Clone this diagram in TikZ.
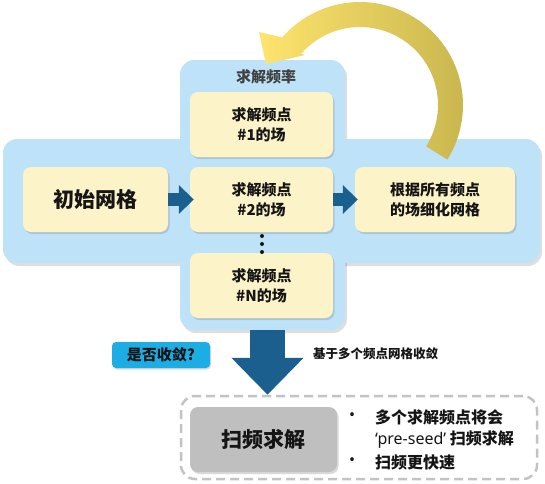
\documentclass[tikz,border=0pt]{standalone}
\usepackage{fontspec}
\setmainfont{Noto Sans CJK SC}
\newfontfamily\latin{Noto Sans}
\usetikzlibrary{positioning,arrows.meta,shadows}

\definecolor{bandblue}{HTML}{BEE3F8}
\definecolor{boxyellow}{HTML}{FDF3C9}
\definecolor{arrowblue}{HTML}{1A5F8E}
\definecolor{askcyan}{HTML}{1BADE4}
\definecolor{sweepgray}{HTML}{BFBFBF}
\definecolor{dashgray}{HTML}{C3C3C3}
\definecolor{loopyellow}{HTML}{FFE46E}
\definecolor{loopolive}{HTML}{C9B74F}
\definecolor{titlegray}{HTML}{404040}
\definecolor{inkblack}{HTML}{151515}

\tikzset{
  panel/.style={fill=bandblue, rounded corners=14pt, inner sep=0pt},
  fieldbox/.style={fill=boxyellow, rounded corners=8pt, minimum width=143pt, minimum height=65pt,
    align=center, text=inkblack, font=\bfseries\fontsize{15}{20}\selectfont,
    drop shadow={opacity=0.3, shadow xshift=1.5pt, shadow yshift=-2pt}},
  flow/.style={arrowblue, line width=13pt, -{Triangle[width=28pt,length=15pt]}},
  note/.style={anchor=west, inner sep=0pt, text=inkblack, font=\bfseries\fontsize{16}{20}\selectfont},
}

\begin{document}
\begin{tikzpicture}[x=1pt,y=-1pt]
        \useasboundingbox (0,0) rectangle (545,483);

        % blue panels
        \fill[black, opacity=0.13, rounded corners=14pt] (5,142) rectangle (542,266);
        \fill[black, opacity=0.13, rounded corners=14pt] (182,63) rectangle (347,333);
        \node[panel, minimum width=537pt, minimum height=124pt] (band) at (271.5,201) {};
        \node[panel, minimum width=165pt, minimum height=270pt] (freqcol) at (262.5,195) {};

        \node[text=titlegray, font=\bfseries\fontsize{15}{18}\selectfont] (freqtitle) at (266,77) {求解频率};

        \node[fieldbox] (f1) at (261.5,124.5) {求解频点\\\#1的场};
        \node[fieldbox] (f2) at (261.5,199.5) {求解频点\\\#2的场};
        \node[fieldbox] (fN) at (261.5,285.5) {求解频点\\\#N的场};
        \node[fieldbox, minimum width=145pt, font=\bfseries\fontsize{21}{24}\selectfont] (initmesh) at (95.5,199.5) {初始网格};
        \node[fieldbox, minimum width=160pt] (refine) at (435,199.5) {根据所有频点\\的场细化网格};

        \foreach \y in {236,244,252}
          \fill[inkblack] (262,\y) circle (2pt);

        \draw[flow] (initmesh.east) -- ([xshift=4pt]f2.west);
        \draw[flow] (f2.east) -- ([xshift=3pt]refine.west);

        % loop arrow
        \shade[left color=loopyellow, middle color=loopyellow, right color=loopolive]
          plot[domain=32:-139, samples=60] ({360+103*cos(\x)},{105+103*sin(\x)})
          -- (259,32) -- (266,64) -- (305,55)
          -- plot[domain=-139:32, samples=60] ({360+78*cos(\x)},{105+78*sin(\x)}) -- cycle;

        % sweep
        \node[draw=dashgray, line width=2.5pt, dash pattern=on 9pt off 5pt, rounded corners=14pt,
          minimum width=356pt, minimum height=83pt] (sweepgroup) at (359,437.5) {};
        \node[fill=sweepgray, rounded corners=8pt, minimum width=147pt, minimum height=65pt, text=inkblack,
          font=\bfseries\fontsize{21}{24}\selectfont,
          drop shadow={opacity=0.3, shadow xshift=1.5pt, shadow yshift=-2pt}] (sweep) at (263.5,439.5) {扫频求解};

        \draw[arrowblue, line width=35pt, -{Triangle[width=70pt,length=37pt]}]
          ([xshift=5pt]freqcol.south) -- ([xshift=5pt]freqcol.south |- sweepgroup.north);

        \node[fill=askcyan, rounded corners=4pt, minimum width=98pt, minimum height=26pt, text=inkblack,
          font=\bfseries\fontsize{15}{18}\selectfont,
          drop shadow={opacity=0.3, shadow xshift=1pt, shadow yshift=-1.5pt}] (ask) at (161,355) {是否收敛?};
        \node[note, font=\bfseries\fontsize{12.5}{16}\selectfont] (basis) at (313,354) {基于多个频点网格收敛};

        \node[note] (dot1) at (349,417) {\latin •};
        \node[note] (dot2) at (349,462) {\latin •};
        \node[note] (line1) at (375,417) {多个求解频点将会};
        \node[note] (line2) at (375,440) {{\latin ‘pre-seed’} 扫频求解};
        \node[note] (line3) at (375,462) {扫频更快速};
      \end{tikzpicture}
\end{document}
